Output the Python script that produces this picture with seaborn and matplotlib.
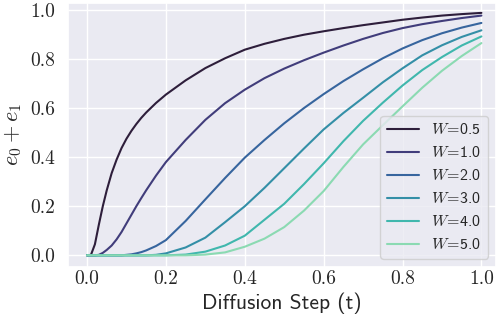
import numpy as np
import pandas as pd
import matplotlib
matplotlib.use("Agg")
import matplotlib.pyplot as plt
from matplotlib.ticker import FuncFormatter, MultipleLocator
import seaborn as sns

t = [0, 0.01, 0.02, 0.03, 0.04, 0.05, 0.0625, 0.075, 0.0875, 0.1, 0.1125, 0.125,
     0.1375, 0.15, 0.175, 0.2, 0.25, 0.3, 0.35, 0.4, 0.45, 0.5, 0.55, 0.6, 0.65,
     0.7, 0.75, 0.8, 0.85, 0.9, 0.95, 1.0]

w05 = [0, 0.002, 0.045, 0.125, 0.2, 0.265, 0.335, 0.39, 0.437, 0.475, 0.507,
       0.535, 0.56, 0.582, 0.621, 0.655, 0.713, 0.763, 0.803, 0.838, 0.862,
       0.882, 0.899, 0.913, 0.926, 0.938, 0.949, 0.96, 0.969, 0.977, 0.983, 0.988]
w10 = [0, 0, 0, 0.002, 0.01, 0.022, 0.04, 0.065, 0.095, 0.13, 0.165, 0.2, 0.233,
       0.265, 0.325, 0.38, 0.47, 0.552, 0.62, 0.675, 0.722, 0.761, 0.795, 0.826,
       0.855, 0.882, 0.906, 0.926, 0.942, 0.955, 0.967, 0.977]
w20 = [0, 0, 0, 0, 0, 0, 0, 0, 0, 0.002, 0.004, 0.008, 0.013, 0.02, 0.038, 0.062,
       0.14, 0.228, 0.315, 0.398, 0.47, 0.538, 0.6, 0.657, 0.71, 0.758, 0.803,
       0.843, 0.877, 0.905, 0.928, 0.947]
w30 = [0, 0, 0, 0, 0, 0, 0, 0, 0, 0, 0, 0, 0, 0, 0.002, 0.008, 0.032, 0.072,
       0.135, 0.2, 0.275, 0.355, 0.435, 0.513, 0.58, 0.642, 0.705, 0.762, 0.815,
       0.856, 0.89, 0.917]
w40 = [0, 0, 0, 0, 0, 0, 0, 0, 0, 0, 0, 0, 0, 0, 0, 0, 0.003, 0.015, 0.04, 0.08,
       0.145, 0.21, 0.29, 0.375, 0.465, 0.548, 0.622, 0.692, 0.755, 0.808, 0.855,
       0.892]
w50 = [0, 0, 0, 0, 0, 0, 0, 0, 0, 0, 0, 0, 0, 0, 0, 0, 0, 0.003, 0.012, 0.035,
       0.068, 0.115, 0.182, 0.262, 0.36, 0.452, 0.53, 0.607, 0.683, 0.752, 0.812,
       0.865]

w_values = ["0.5", "1.0", "2.0", "3.0", "4.0", "5.0"]
series = [w05, w10, w20, w30, w40, w50]

labels = [r"$W\!=\!$" + w for w in w_values]
frames = []
for lab, ys in zip(labels, series):
    frames.append(pd.DataFrame({"t": t, "v": ys, "W": lab}))
df = pd.concat(frames, ignore_index=True)

sns.set_theme(style="darkgrid")
plt.rcParams["mathtext.fontset"] = "cm"
plt.rcParams["font.family"] = ["cmr10", "DejaVu Sans"]
plt.rcParams["axes.formatter.use_mathtext"] = True

fig = plt.figure(figsize=(4.97, 3.22), dpi=100)
ax = fig.add_axes([0.137, 0.172, 0.861, 0.820])

sns.lineplot(data=df, x="t", y="v", hue="W", hue_order=labels,
             palette=sns.color_palette("mako", 6), linewidth=1.5, ax=ax)

ax.set_xlim(-0.048, 1.037)
ax.set_ylim(-0.046, 1.03)
ax.xaxis.set_major_locator(MultipleLocator(0.2))
ax.yaxis.set_major_locator(MultipleLocator(0.2))
fmt = FuncFormatter(lambda v, p: "%.1f" % v)
ax.xaxis.set_major_formatter(fmt)
ax.yaxis.set_major_formatter(fmt)
ax.tick_params(labelsize=14)
ax.tick_params(axis="x", pad=-3.5)
for lab in ax.get_xticklabels() + ax.get_yticklabels():
    lab.set_fontfamily("cmr10")

ax.set_xlabel("Diffusion Step (t)", fontsize=15.5, fontfamily="cmss10")
ax.xaxis.set_label_coords(0.5, -0.098)
ax.set_ylabel(r"$e_0 + e_1$", fontsize=16)

leg = ax.legend(loc="lower right", title=None,
                prop={"family": "cmss10", "size": 11.5})

fig.savefig("out.png", dpi=100)
